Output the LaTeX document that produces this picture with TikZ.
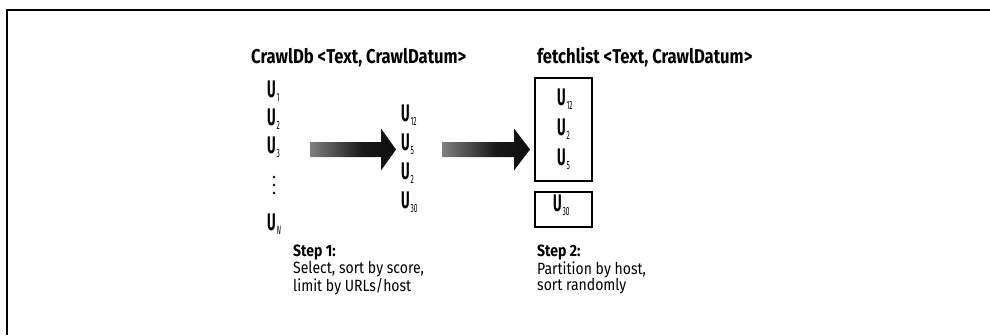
\documentclass[tikz,border=0pt]{standalone}
\usepackage{fontspec}
\setmainfont{Fira Sans}[FakeStretch=0.83]
\newfontfamily\ufont{Fira Sans}[FakeStretch=0.55]
\newfontfamily\sfontfam{Fira Sans}[FakeStretch=0.86]
\usetikzlibrary{calc}
\pgfdeclarehorizontalshading{arrowshade}{100bp}{color(0bp)=(black!35); color(25bp)=(black!50); color(55bp)=(black!90); color(100bp)=(black)}
\newcommand{\uu}[1]{{\ufont\bfseries\fontsize{24}{24}\selectfont U\kern0.8pt\raisebox{-4pt}{\mdseries\fontsize{12}{12}\selectfont #1}}}
\tikzset{
  lbl/.style={inner sep=0pt, anchor=base west},
  titlefont/.style={font=\fontsize{20}{20}\selectfont\bfseries},
  stepblock/.style={inner sep=0pt, anchor=north west, align=left, font=\sfontfam\fontsize{16.3}{15}\selectfont},
  boxn/.style={draw, line width=2pt, inner sep=0pt},
  dotn/.style={circle, fill, inner sep=0pt, minimum size=2.8pt},
  arrowfill/.style={shading=arrowshade, draw=none},
  frameline/.style={line width=2pt}
}
\begin{document}
\begin{tikzpicture}[x=1pt,y=-1pt]
\useasboundingbox (0,0) rectangle (990,335);
\coordinate (fb) at (7,335);
\coordinate (fc) at (7,9.5);
\coordinate (fr) at (990,9.5);
\draw[frameline] (fb) -- (fc) -- (fr);

% titles
\node[lbl, titlefont] (t1) at (251,63) {CrawlDb <Text, CrawlDatum>};
\node[lbl, titlefont] (t2) at (537,63) {fetchlist <Text, CrawlDatum>};

% left column
\node[lbl] (a1) at (267,97) {\uu{1}};
\node[lbl] (a2) at (267,125) {\uu{2}};
\node[lbl] (a3) at (267,153) {\uu{3}};
\node[dotn] (d1) at (274,177) {};
\node[dotn] (d2) at (274,185) {};
\node[dotn] (d3) at (274,193) {};
\node[lbl] (aN) at (267,230) {\uu{\itshape N}};

% middle column
\node[lbl] (b1) at (401,121) {\uu{12}};
\node[lbl] (b2) at (401,150) {\uu{5}};
\node[lbl] (b3) at (401,179) {\uu{2}};
\node[lbl] (b4) at (401,208) {\uu{30}};

% boxes
\node[boxn, minimum width=57pt, minimum height=103pt] (box1) at (563.5,129.5) {};
\node[boxn, minimum width=57pt, minimum height=35pt] (box2) at (563.5,209.5) {};
\node[lbl] (c1) at (557,105) {\uu{12}};
\node[lbl] (c2) at (557,135) {\uu{2}};
\node[lbl] (c3) at (557,165) {\uu{5}};
\node[lbl] (c4) at (553,211) {\uu{30}};

% block arrows
\coordinate (ar1s) at (310,149.5);
\coordinate (ar1e) at (396,149.5);
\coordinate (ar2s) at (442,149.5);
\coordinate (ar2e) at (530,149.5);
\path[arrowfill] ($(ar1s)+(0,-7.5)$) -- ($(ar1e)+(-15,-7.5)$) -- ($(ar1e)+(-15,-21)$) -- (ar1e)
  -- ($(ar1e)+(-15,21)$) -- ($(ar1e)+(-15,7.5)$) -- ($(ar1s)+(0,7.5)$) -- cycle;
\path[arrowfill] ($(ar2s)+(0,-7.5)$) -- ($(ar2e)+(-16,-7.5)$) -- ($(ar2e)+(-16,-21)$) -- (ar2e)
  -- ($(ar2e)+(-16,21)$) -- ($(ar2e)+(-16,7.5)$) -- ($(ar2s)+(0,7.5)$) -- cycle;

% step texts
\node[stepblock] (s1) at (293,245) {\bfseries Step 1:\\Select, sort by score,\\limit by URLs/host};
\node[stepblock] (s2) at (537,245) {\bfseries Step 2:\\Partition by host,\\sort randomly};
\end{tikzpicture}
\end{document}
